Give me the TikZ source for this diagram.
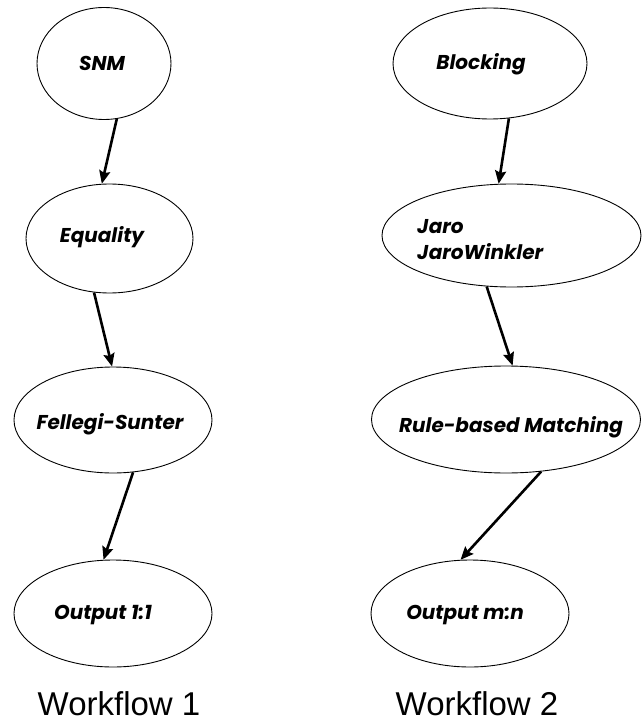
\documentclass[tikz,border=0pt]{standalone}
\usepackage{fontspec}
\setmainfont{Liberation Sans}
\newfontfamily\cg{Poppins}
\usetikzlibrary{shapes.geometric,arrows.meta}
\tikzset{
  oval/.style={draw=black, line width=0.9pt, ellipse, inner sep=0pt},
  lbl/.style={font=\cg\fontsize{20}{24}\selectfont\bfseries\itshape, inner sep=0pt},
  wf/.style={font=\fontsize{33}{36}\selectfont, inner sep=0pt, anchor=base},
  flow/.style={draw=black, line width=2.6pt, -{Stealth[length=13pt,width=11pt,inset=2pt]}, shorten >=0pt}
}
\begin{document}
\begin{tikzpicture}[x=1pt,y=-1pt]
\useasboundingbox (0,0) rectangle (641,722);
% workflow 1
\node[oval, minimum width=134pt, minimum height=112pt] (snm) at (104,63.5) {};
\node[oval, minimum width=167pt, minimum height=109pt] (eq) at (109.5,238.5) {};
\node[oval, minimum width=198pt, minimum height=106pt] (fs) at (113,420) {};
\node[oval, minimum width=198pt, minimum height=107pt] (o1) at (113,613.5) {};
\node[lbl] (tsnm) at (102,63) {SNM};
\node[lbl] (teq) at (102,237) {Equality};
\node[lbl] (tfs) at (110,424) {Fellegi-Sunter};
\node[lbl] (to1) at (103,615) {Output 1:1};
\node[wf] (w1) at (119,715) {Workflow 1};
% workflow 2
\node[oval, minimum width=194pt, minimum height=111pt] (blk) at (490,63.5) {};
\node[oval, minimum width=259pt, minimum height=103pt] (jaro) at (511.5,235.5) {};
\node[oval, minimum width=269pt, minimum height=107pt] (rule) at (506,419.5) {};
\node[oval, minimum width=198pt, minimum height=107pt] (omn) at (470,613.5) {};
\node[lbl] (tblk) at (481,64) {Blocking};
\node[lbl, align=left, anchor=west, font=\cg\fontsize{20}{26}\selectfont\bfseries\itshape] (tjaro) at (417,240) {Jaro\\JaroWinkler};
\node[lbl] (trule) at (511,427) {Rule-based Matching};
\node[lbl] (tomn) at (465,615) {Output m:n};
\node[wf] (w2) at (477,715) {Workflow 2};
% connectors
\draw[flow] (snm.-77) -- (eq.98);
\draw[flow] (eq.-106.8) -- (fs.91);
\draw[flow] (fs.-69.3) -- (o1.100.6);
\draw[flow] (blk.-71.1) -- (jaro.104.2);
\draw[flow] (jaro.-116.8) -- (rule.83.6);
\draw[flow] (rule.-56.8) -- (omn.100.6);
\end{tikzpicture}
\end{document}
